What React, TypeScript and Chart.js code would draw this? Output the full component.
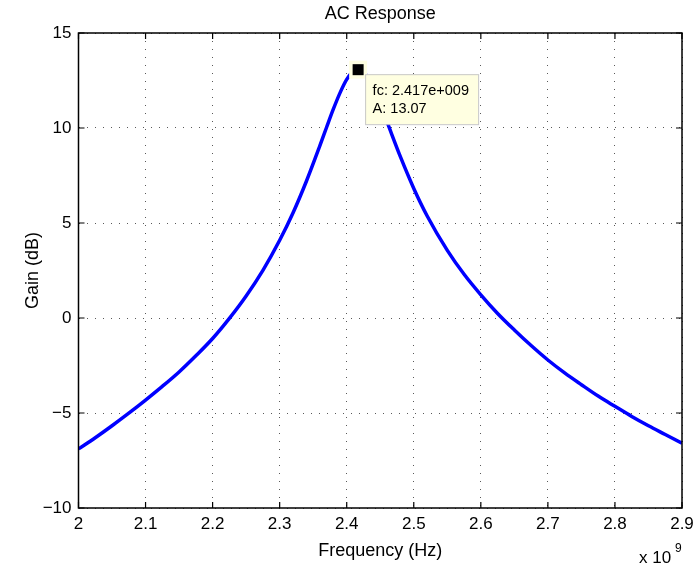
import React, { useEffect, useRef } from "react";
import { Chart, registerables } from "chart.js";

Chart.register(...registerables);

const freqGHz = [2.0, 2.025, 2.05, 2.075, 2.1, 2.125, 2.15, 2.175, 2.2, 2.225, 2.25, 2.275, 2.3, 2.32, 2.34, 2.36, 2.37, 2.38, 2.39, 2.4, 2.41, 2.417, 2.425, 2.435, 2.445, 2.46, 2.48, 2.5, 2.52, 2.55, 2.575, 2.6, 2.625, 2.65, 2.675, 2.7, 2.725, 2.75, 2.775, 2.8, 2.825, 2.85, 2.875, 2.9];
const gainDb = [-6.89, -6.3, -5.67, -5.01, -4.32, -3.6, -2.84, -1.99, -1.08, -0.02, 1.16, 2.51, 4.09, 5.54, 7.21, 9.07, 10.04, 10.99, 11.85, 12.56, 12.98, 13.07, 12.94, 12.45, 11.7, 10.33, 8.49, 6.82, 5.37, 3.56, 2.3, 1.22, 0.24, -0.63, -1.45, -2.21, -2.89, -3.51, -4.11, -4.65, -5.18, -5.67, -6.13, -6.59];

const xTicks = [2.0, 2.1, 2.2, 2.3, 2.4, 2.5, 2.6, 2.7, 2.8, 2.9];
const yTicks = [-10, -5, 0, 5, 10, 15];

const peakFreq = 2.417;
const peakGain = 13.07;
const tipLines = ["fc: 2.417e+009", "A: 13.07"];

const titleText = "AC Response";
const xLabelText = "Frequency (Hz)";
const yLabelText = "Gain (dB)";

const FONT = "'Liberation Sans', Arial, Helvetica, sans-serif";

const decorPlugin = {
  id: "decor",
  afterDatasetsDraw(chart: any) {
    const ctx = chart.ctx;
    const { left, right, top, bottom } = chart.chartArea;
    const xs = chart.scales.x;
    const ys = chart.scales.y;
    ctx.save();
    ctx.strokeStyle = "#000";
    ctx.lineWidth = 1.5;
    ctx.strokeRect(left, top, right - left, bottom - top);
    const tl = 6;
    ctx.lineWidth = 1.2;
    ctx.beginPath();
    xTicks.forEach((v) => {
      const px = xs.getPixelForValue(v);
      ctx.moveTo(px, bottom);
      ctx.lineTo(px, bottom - tl);
      ctx.moveTo(px, top);
      ctx.lineTo(px, top + tl);
    });
    yTicks.forEach((v) => {
      const py = ys.getPixelForValue(v);
      ctx.moveTo(left, py);
      ctx.lineTo(left + tl, py);
      ctx.moveTo(right, py);
      ctx.lineTo(right - tl, py);
    });
    ctx.stroke();

    ctx.fillStyle = "#000";
    ctx.font = `18px ${FONT}`;
    ctx.textAlign = "center";
    ctx.textBaseline = "alphabetic";
    ctx.fillText(titleText, (left + right) / 2, 18.5);
    ctx.fillText(xLabelText, (left + right) / 2, 556);
    ctx.save();
    ctx.translate(38, (top + bottom) / 2);
    ctx.rotate(-Math.PI / 2);
    ctx.fillText(yLabelText, 0, 0);
    ctx.restore();
    ctx.textAlign = "left";
    ctx.font = `17px ${FONT}`;
    ctx.fillText("x 10", 639, 563);
    ctx.font = `12px ${FONT}`;
    ctx.fillText("9", 675, 552);

    const px = xs.getPixelForValue(peakFreq);
    const py = ys.getPixelForValue(peakGain);
    ctx.fillStyle = "#FFFFE1";
    ctx.fillRect(px - 9, py - 9, 18, 18);
    ctx.fillStyle = "#000";
    ctx.fillRect(px - 5.5, py - 5.5, 11, 11);

    const bx = px + 7;
    const by = py + 4.5;
    ctx.fillStyle = "#FFFFE1";
    ctx.fillRect(bx, by, 113, 50);
    ctx.strokeStyle = "#c8c8c8";
    ctx.lineWidth = 1;
    ctx.strokeRect(bx + 0.5, by + 0.5, 113, 50);
    ctx.fillStyle = "#000";
    ctx.font = `14.5px ${FONT}`;
    ctx.fillText(tipLines[0], px + 14.5, py + 25.5);
    ctx.fillText(tipLines[1], px + 14.5, py + 43);
    ctx.restore();
  },
};

export default function App() {
  const ref = useRef<HTMLCanvasElement | null>(null);
  useEffect(() => {
    document.body.style.margin = "0";
    const canvas = ref.current;
    if (!canvas) return;
    const chart = new Chart(canvas, {
      type: "line",
      data: {
        datasets: [
          {
            data: freqGHz.map((f, i) => ({ x: f, y: gainDb[i] })),
            borderColor: "#0000FF",
            borderWidth: 3.5,
            pointRadius: 0,
            fill: false,
            cubicInterpolationMode: "monotone",
          },
        ],
      },
      options: {
        animation: false,
        responsive: false,
        devicePixelRatio: 1,
        layout: { padding: { left: 0, right: 13, top: 33, bottom: 0 } },
        plugins: { legend: { display: false }, tooltip: { enabled: false }, title: { display: false } },
        events: [],
        scales: {
          x: {
            type: "linear",
            min: 2,
            max: 2.9,
            afterBuildTicks: (s: any) => {
              s.ticks = xTicks.map((v) => ({ value: v }));
            },
            afterFit: (s: any) => {
              s.height = 61;
              s.paddingLeft = 0;
              s.paddingRight = 0;
            },
            ticks: {
              color: "#000",
              font: { family: FONT, size: 17 },
              padding: 6,
              maxRotation: 0,
              autoSkip: false,
              callback: (v: any) => String(Number(Number(v).toFixed(1))),
            },
            grid: { color: "rgba(0,0,0,0.65)", drawTicks: false, lineWidth: 1 },
            border: { display: false, dash: [1, 7] },
          },
          y: {
            type: "linear",
            min: -10,
            max: 15,
            afterBuildTicks: (s: any) => {
              s.ticks = yTicks.map((v) => ({ value: v }));
            },
            afterFit: (s: any) => {
              s.width = 78.5;
              s.paddingTop = 0;
              s.paddingBottom = 0;
            },
            ticks: {
              color: "#000",
              font: { family: FONT, size: 17 },
              padding: 7,
              autoSkip: false,
              callback: (v: any) => (Number(v) < 0 ? "\u2212" + Math.abs(Number(v)) : String(v)),
            },
            grid: { color: "rgba(0,0,0,0.65)", drawTicks: false, lineWidth: 1 },
            border: { display: false, dash: [1, 7] },
          },
        },
      },
      plugins: [decorPlugin],
    });
    return () => chart.destroy();
  }, []);
  return (
    <div style={{ position: "fixed", left: 0, top: 0, width: 695, height: 569, background: "#fff" }}>
      <canvas ref={ref} width={695} height={569} style={{ width: 695, height: 569, display: "block" }} />
    </div>
  );
}
